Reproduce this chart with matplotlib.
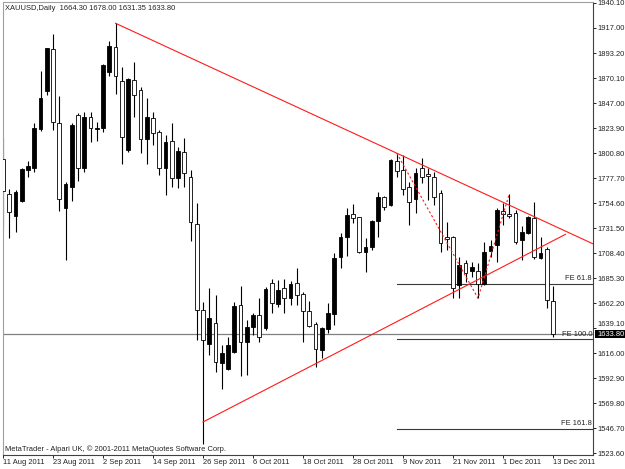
import matplotlib
matplotlib.use("Agg")
import matplotlib.pyplot as plt
from matplotlib.patches import Rectangle
import numpy as np

plt.rcParams['font.family'] = ['Liberation Sans', 'DejaVu Sans']

# ---- data ----
opens = [1795.6, 1763.3, 1742.7, 1757.1, 1785.5, 1787.6, 1823.1, 1858.5, 1897.0, 1829.2,
         1750.1, 1770.0, 1836.3, 1787.6, 1834.7, 1823.4, 1824.6, 1876.3, 1899.4, 1868.0,
         1804.0, 1868.7, 1859.4, 1813.8, 1833.3, 1820.3, 1787.0, 1812.6, 1778.3, 1802.4,
         1778.7, 1735.6, 1656.1, 1624.6, 1643.8, 1607.4, 1601.3, 1617.5, 1660.7, 1626.8,
         1640.6, 1651.4, 1639.1, 1681.3, 1661.6, 1676.7, 1666.9, 1680.7, 1670.6, 1655.1,
         1643.1, 1619.1, 1638.2, 1652.4, 1705.3, 1723.3, 1744.5, 1741.8, 1710.0, 1714.6,
         1738.6, 1760.2, 1753.1, 1794.1, 1785.5, 1769.5, 1758.4, 1787.0, 1781.8, 1779.3,
         1763.9, 1723.3, 1723.3, 1679.2, 1699.2, 1692.4, 1692.4, 1679.8, 1710.9, 1716.1,
         1747.6, 1744.8, 1746.0, 1720.8, 1727.0, 1740.8, 1703.9, 1712.2, 1664.30]
highs = [1814.8, 1767.9, 1767.0, 1787.4, 1794.1, 1828.6, 1877.0, 1898.6, 1911.2, 1853.9,
         1774.7, 1828.6, 1837.9, 1839.4, 1839.4, 1830.1, 1883.2, 1905.0, 1921.1, 1880.4,
         1870.5, 1885.6, 1862.5, 1851.7, 1839.4, 1822.4, 1817.8, 1828.6, 1807.0, 1815.3,
         1785.5, 1754.7, 1663.7, 1676.7, 1669.9, 1623.7, 1631.4, 1663.7, 1678.5, 1646.8,
         1653.6, 1666.9, 1677.6, 1684.4, 1683.8, 1684.4, 1683.2, 1695.2, 1673.0, 1664.7,
         1645.2, 1640.6, 1662.3, 1709.0, 1726.9, 1750.1, 1754.0, 1742.4, 1722.3, 1739.0,
         1764.9, 1761.4, 1795.5, 1800.9, 1799.3, 1774.7, 1787.0, 1796.3, 1787.3, 1783.9,
         1767.0, 1737.7, 1724.5, 1705.3, 1702.3, 1700.7, 1699.2, 1719.2, 1720.8, 1750.1,
         1755.2, 1763.3, 1748.5, 1733.7, 1743.0, 1756.2, 1723.3, 1714.6, 1678.00]
lows = [1731.6, 1722.9, 1727.9, 1755.8, 1778.7, 1783.3, 1821.8, 1854.8, 1822.4, 1747.9,
        1702.3, 1756.8, 1775.6, 1783.3, 1811.1, 1812.3, 1820.9, 1872.6, 1855.4, 1791.0,
        1801.8, 1834.7, 1800.9, 1791.0, 1808.6, 1780.8, 1762.4, 1770.0, 1769.1, 1770.0,
        1720.1, 1628.3, 1532.0, 1614.5, 1598.5, 1582.8, 1600.5, 1616.0, 1595.3, 1595.9,
        1632.9, 1626.2, 1637.6, 1653.0, 1659.1, 1653.0, 1660.7, 1660.7, 1626.8, 1640.1,
        1603.7, 1611.4, 1635.1, 1642.2, 1694.6, 1706.0, 1736.2, 1709.0, 1691.5, 1711.5,
        1723.8, 1748.5, 1752.0, 1779.3, 1762.4, 1734.6, 1745.5, 1773.2, 1757.7, 1753.1,
        1710.0, 1711.5, 1666.9, 1666.9, 1682.2, 1686.8, 1666.9, 1679.0, 1705.3, 1700.7,
        1734.6, 1740.8, 1717.1, 1702.3, 1726.5, 1702.9, 1703.5, 1657.6, 1631.35]
closes = [1766.1, 1746.4, 1765.4, 1786.4, 1789.4, 1824.0, 1851.7, 1898.0, 1829.6, 1758.4,
          1772.5, 1827.1, 1787.6, 1834.7, 1824.6, 1824.6, 1882.5, 1900.1, 1872.6, 1815.7,
          1869.6, 1854.8, 1814.1, 1834.2, 1819.4, 1787.0, 1811.6, 1778.3, 1803.0, 1782.4,
          1737.1, 1656.1, 1628.3, 1648.9, 1608.3, 1616.0, 1623.7, 1659.8, 1626.2, 1640.1,
          1651.4, 1631.4, 1675.2, 1662.3, 1674.5, 1666.9, 1680.1, 1669.9, 1655.4, 1641.6,
          1619.7, 1639.1, 1653.0, 1703.8, 1723.8, 1743.9, 1740.8, 1709.4, 1714.6, 1738.3,
          1760.8, 1751.5, 1794.7, 1784.8, 1767.6, 1756.2, 1783.0, 1778.7, 1779.9, 1760.8,
          1717.7, 1721.4, 1676.1, 1697.7, 1690.5, 1695.5, 1679.8, 1710.0, 1715.2, 1748.5,
          1744.5, 1742.9, 1719.2, 1728.4, 1742.3, 1704.8, 1708.5, 1665.3, 1633.80]

date_labels = ["11 Aug 2011", "23 Aug 2011", "2 Sep 2011", "14 Sep 2011", "26 Sep 2011",
               "6 Oct 2011", "18 Oct 2011", "28 Oct 2011", "9 Nov 2011", "21 Nov 2011",
               "1 Dec 2011", "13 Dec 2011"]
price_labels = [1940.10, 1917.00, 1893.20, 1870.10, 1847.00, 1823.90, 1800.80, 1777.70,
                1754.60, 1731.50, 1708.40, 1685.30, 1662.20, 1639.10, 1616.00, 1592.90,
                1569.80, 1546.70, 1523.60]

# trend lines (bar index, price)
upper_line = [(18, 1921.1), (63, 1801.0)]
lower_line = [(32, 1552.5), (90, 1726.0)]
# fibonacci expansion points A, B, C (bar index, price)
fe_points = [(63, 1801.0), (76, 1666.9), (81, 1763.3)]
fe_ratios = [61.8, 100.0, 161.8]
bid = 1633.80

# ---- figure ----
W, H = 625, 469
fig = plt.figure(figsize=(W / 100, H / 100), dpi=100)
fig.patch.set_facecolor('white')
px_left, px_right, px_top, px_bot = 2.5, 593.0, 2.0, 455.0
ax = fig.add_axes([px_left / W, 1 - px_bot / H, (px_right - px_left) / W, (px_bot - px_top) / H])
ax.set_facecolor('white')

n = len(opens)
x = np.arange(n)
bar_px = 6.25
x0_px = 3.0
ax.set_xlim((px_left - x0_px) / bar_px, (px_right - x0_px) / bar_px)
y_lo, y_hi = 1522.0, 1940.75
ax.set_ylim(y_lo, y_hi)

def price_to_px(p):
    return px_bot - (p - y_lo) / (y_hi - y_lo) * (px_bot - px_top)

o = np.array(opens); c = np.array(closes); h = np.array(highs); l = np.array(lows)
ax.vlines(x, l, h, color='black', lw=0.8, zorder=2)
bull = c >= o
bottoms = np.minimum(o, c)
heights = np.maximum(np.abs(c - o), 0.4)
ax.bar(x, heights, bottom=bottoms, width=0.62,
       color=np.where(bull, 'black', 'white'), edgecolor='black', linewidth=0.6, zorder=3)

# bid line
ax.axhline(bid, color='#808080', lw=0.9, zorder=1)

# trendlines
xr = ax.get_xlim()[1]
(ux0, uy0), (ux1, uy1) = upper_line
slope = (uy1 - uy0) / (ux1 - ux0)
ax.plot([ux0, xr], [uy0, uy0 + slope * (xr - ux0)], color='#ff1a1a', lw=0.8, zorder=4)
ax.plot([p[0] for p in lower_line], [p[1] for p in lower_line], color='#ff1a1a', lw=0.8, zorder=4)

# fibonacci expansion
ax.plot([p[0] for p in fe_points], [p[1] for p in fe_points], color='#ff1a1a', lw=0.8,
        ls=(0, (2, 2)), zorder=4)
A, B, C = fe_points
for r in fe_ratios:
    lvl = C[1] - r / 100.0 * (A[1] - B[1])
    ax.plot([A[0], xr], [lvl, lvl], color='#3a3a3a', lw=0.8, zorder=1)
    ax.text(xr - 0.15, lvl + 1.2, "FE %.1f" % r, ha='right', va='bottom', fontsize=5.4,
            color='#222222', zorder=5)

# spines
for s in ['left', 'top']:
    ax.spines[s].set_color('#a0a0a0')
for s in ['right', 'bottom']:
    ax.spines[s].set_color('#404040')
for s in ax.spines.values():
    s.set_linewidth(0.8)

# axes ticks (the label hidden behind the bid box is drawn separately, just above it)
ax.yaxis.tick_right()
ax.set_yticks(price_labels)
near_bid = [abs(v - bid) < 8 for v in price_labels]
ax.set_yticklabels(["" if nb else "%.2f" % v for v, nb in zip(price_labels, near_bid)])
ax.tick_params(axis='y', direction='out', length=2.2, width=0.7, pad=1.2,
               labelsize=5.4, colors='#222222')
for v, nb in zip(price_labels, near_bid):
    if nb:
        fig.text(597.7 / W, 1 - (price_to_px(v) - 3.8) / H, "%.2f" % v, ha='left',
                 va='center', fontsize=5.4, color='#222222')
ax.set_xticks(np.arange(0, n, 8))
ax.set_xticklabels(date_labels)
ax.tick_params(axis='x', direction='out', length=1.8, width=0.7, pad=1.2,
               labelsize=5.4, colors='#222222')
for t in ax.get_xticklabels():
    t.set_ha('left')

# bid price box
bid_px = price_to_px(bid)
fig.add_artist(Rectangle((595 / W, 1 - (bid_px + 4.0) / H), 31 / W, 8.0 / H,
                         transform=fig.transFigure, fc='black', ec='none', zorder=10))
fig.text(597.5 / W, 1 - (bid_px + 0.3) / H, "%.2f" % bid, ha='left', va='center',
         fontsize=5.4, color='white', zorder=11)

# header and footer
fig.text(5 / W, 1 - 8 / H, "XAUUSD,Daily  1664.30 1678.00 1631.35 1633.80", ha='left',
         va='center', fontsize=5.4, color='#222222')
fig.text(5 / W, 1 - 449 / H, "MetaTrader - Alpari UK, \u00a9 2001-2011 MetaQuotes Software Corp.",
         ha='left', va='center', fontsize=5.4, color='#222222')

fig.savefig("out.png", dpi=100, facecolor='white')
